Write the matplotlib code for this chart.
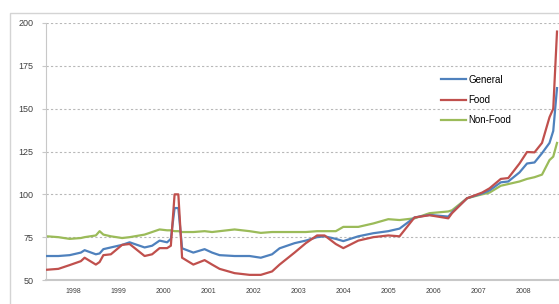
import matplotlib.pyplot as plt
from matplotlib.patches import Rectangle

# month index counted from Jan 1998
months = [0, 3, 6, 9, 10, 13, 14, 15, 17, 20, 22, 26, 28, 30, 32, 33, 34, 35, 36,
          39, 42, 44, 46, 50, 54, 57, 60, 62, 66, 69, 72, 74, 77, 79, 83, 87, 91,
          94, 98, 102, 107, 108, 112, 116, 118, 121, 123, 126, 128, 130, 132, 134,
          135, 136]

general = [64, 64, 64.5, 66, 67.4, 65, 65.5, 68, 69, 70.5, 72, 69, 70, 73, 72, 74,
           92, 92, 68.5, 66, 68, 66, 64.5, 64, 64, 63, 65, 68.5, 71.5, 73, 75, 75.5,
           74, 72.7, 75.5, 77.3, 78.5, 80, 86.5, 88, 87, 89.5, 97.7, 100.5, 102.3,
           107, 107.5, 112.8, 118, 118.6, 124, 130, 137, 162]

food = [56, 56.5, 58.7, 61, 63, 59, 60.5, 64.5, 65, 70.5, 71, 64, 65, 68.6, 68.6,
        70, 100, 100, 63, 59, 61.6, 59, 56.5, 54, 53, 53, 55, 59, 66, 71.5, 76, 76,
        71, 68.6, 73, 75, 76, 75.5, 86.5, 87.8, 86, 89, 97.7, 101, 103.5, 109, 109.5,
        118, 124.7, 124.5, 130, 145, 150, 195]

non_food = [75.5, 75, 74, 74.5, 75, 76, 78.5, 76.5, 75.5, 74.5, 75, 76.5, 78, 79.5,
            79, 79, 78.5, 78.5, 78, 78, 78.5, 78, 78.5, 79.5, 78.5, 77.5, 78, 78, 78,
            78, 78.5, 78.5, 78.5, 81, 81, 83, 85.5, 85, 86, 89, 90, 90.7, 97.7, 100,
            101, 105, 106, 107.5, 109, 110, 111.5, 120, 122, 130]

years = [1998, 1999, 2000, 2001, 2002, 2003, 2004, 2005, 2006, 2007, 2008]
year_ticks = [12 * i + 7 for i in range(len(years))]

plt.rcParams['font.family'] = ['Liberation Sans', 'DejaVu Sans']

fig = plt.figure(figsize=(5.59, 3.04), dpi=100)
fig.patches.append(Rectangle((10 / 559, -0.05), 1.0, 1.05 - 13 / 304 + 0.0,
                             transform=fig.transFigure, fill=False,
                             edgecolor='#d4d4d4', lw=1.0))

ax = fig.add_axes([46 / 559, 24 / 304, 526 / 559, 257 / 304])
ax.set_xlim(-0.3, 140)
ax.set_ylim(50, 200)

ax.plot(months, general, color='#4F81BD', lw=1.6, label='General', zorder=3)
ax.plot(months, food, color='#C0504D', lw=1.6, label='Food', zorder=4)
ax.plot(months, non_food, color='#9BBB59', lw=1.6, label='Non-Food', zorder=2)

ax.set_yticks([50, 75, 100, 125, 150, 175, 200])
ax.yaxis.grid(True, linestyle=(0, (2, 2)), color='#b8b8b8', lw=0.8)
ax.set_xticks(year_ticks)
ax.set_xticklabels([str(y) for y in years])
ax.tick_params(axis='y', labelsize=6.5, labelcolor='#404040', length=3,
               color='#c8c8c8', pad=6)
ax.tick_params(axis='x', labelsize=5, labelcolor='#404040', length=0, pad=6)

for side in ['top', 'right']:
    ax.spines[side].set_visible(False)
ax.spines['left'].set_color('#c8c8c8')
ax.spines['bottom'].set_color('#c8c8c8')
ax.spines['bottom'].set_linewidth(1.5)

ax.legend(loc='upper left', bbox_to_anchor=(436 / 559, 1 - 70 / 304),
          bbox_transform=fig.transFigure, frameon=False, fontsize=7,
          handlelength=2.6, handletextpad=0.2, labelspacing=1.05, borderpad=0)

fig.savefig('out.png', dpi=100)
